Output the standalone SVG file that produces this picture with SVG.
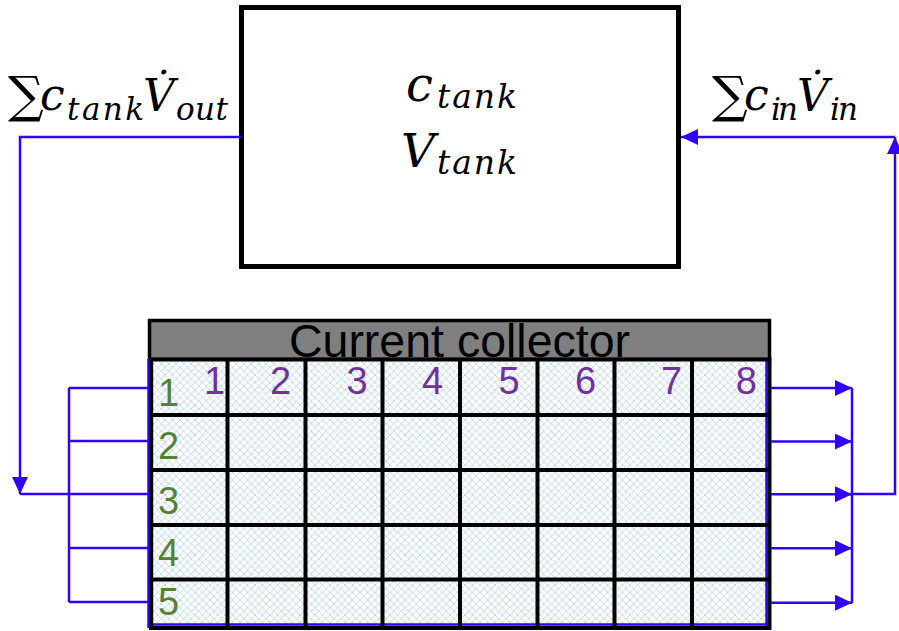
<svg xmlns="http://www.w3.org/2000/svg" width="899" height="631" viewBox="0 0 899 631">
<style>
.math{font-family:"DejaVu Serif","Liberation Serif",serif;font-style:italic;fill:#000}
.sum{font-family:"DejaVu Serif","Liberation Serif",serif;fill:#000}
.row{font-family:"Liberation Sans",Arial,sans-serif;font-size:38px;fill:#548235}
.col{font-family:"Liberation Sans",Arial,sans-serif;font-size:38px;fill:#7030a0}
.conn{fill:none;stroke:#3300ff;stroke-width:2.5}
.grid{stroke:#000;stroke-width:4;stroke-linecap:square;fill:none}
.edge{stroke:#3300ff;stroke-width:2.5;fill:none}
</style>
<defs>
<pattern id="hatch" width="7.5" height="7.5" patternUnits="userSpaceOnUse">
<rect width="7.5" height="7.5" fill="#fff"/>
<path d="M0,0 L7.5,7.5 M7.5,0 L0,7.5" stroke="#bdd6ee" stroke-width="0.9"/>
</pattern>
<marker id="arr" markerWidth="17" markerHeight="16" refX="17" refY="8" orient="auto" markerUnits="userSpaceOnUse">
<path d="M0,0 L17,8 L0,16 z" fill="#3300ff"/>
</marker>
</defs>
<rect width="899" height="631" fill="#fff"/>

<g id="tank">
<rect x="241.5" y="7.5" width="437" height="259" fill="#fff" stroke="#000" stroke-width="5"/>
<text class="math" x="406" y="101" font-size="48">c</text>
<text class="math" x="437" y="108" font-size="33" textLength="80" lengthAdjust="spacing">tank</text>
<text class="math" x="401" y="167" font-size="47">V</text>
<text class="math" x="437" y="174" font-size="33" textLength="80" lengthAdjust="spacing">tank</text>
</g>

<g id="label-out">
<text class="sum" x="8" y="112" font-size="50">∑</text>
<text class="math" x="40" y="110" font-size="44">c</text>
<text class="math" x="67" y="120" font-size="31" textLength="77" lengthAdjust="spacing">tank</text>
<text class="math" x="143" y="111" font-size="44">V̇</text>
<text class="math" x="176" y="120" font-size="31" textLength="52" lengthAdjust="spacing">out</text>
</g>

<g id="label-in">
<text class="sum" x="712" y="112" font-size="50">∑</text>
<text class="math" x="744" y="110" font-size="44">c</text>
<text class="math" x="771" y="120" font-size="31" textLength="27" lengthAdjust="spacing">in</text>
<text class="math" x="797" y="111" font-size="44">V̇</text>
<text class="math" x="830" y="120" font-size="31" textLength="28" lengthAdjust="spacing">in</text>
</g>

<g id="current-collector">
<rect x="149.5" y="320.5" width="620" height="39" fill="#7f7f7f" stroke="#000" stroke-width="3.5"/>
<text x="459.5" y="357" font-family="Liberation Sans, Arial, sans-serif" font-size="46.5" text-anchor="middle" fill="#000">Current collector</text>
<rect x="149.5" y="359.5" width="620" height="268.5" fill="url(#hatch)"/>
<path class="edge" d="M148.5,359 V628 M150,624.5 H768 M766.5,359 V626"/>
<path class="grid" d="M151.2,359.5 V628 M227.5,359.5 V628 M305.5,359.5 V628 M382.5,359.5 V628 M460,359.5 V628 M537.5,359.5 V628 M614.5,359.5 V628 M692,359.5 V628 M769.5,359.5 V628 M151,359.5 H769.5 M151,415 H769.5 M151,470 H769.5 M151,525 H769.5 M151,579.5 H769.5 M151,628 H769.5"/>
<text class="row" x="158" y="406">1</text>
<text class="row" x="158" y="459">2</text>
<text class="row" x="158" y="514">3</text>
<text class="row" x="158" y="566">4</text>
<text class="row" x="158" y="615">5</text>
<text class="col" x="204" y="394">1</text>
<text class="col" x="270" y="394">2</text>
<text class="col" x="346.5" y="394">3</text>
<text class="col" x="422" y="394">4</text>
<text class="col" x="498.5" y="394">5</text>
<text class="col" x="575" y="394">6</text>
<text class="col" x="661" y="394">7</text>
<text class="col" x="735.7" y="394">8</text>
</g>

<g id="connectors">
<path class="conn" d="M241,137 H20 V494" marker-end="url(#arr)"/>
<path class="conn" d="M20,494 H148"/>
<path class="conn" d="M69,388 V602 M69,388 H148 M69,441 H148 M69,548 H148 M69,602 H148"/>
<path class="conn" d="M771,388 H852" marker-end="url(#arr)"/>
<path class="conn" d="M771,441.5 H852" marker-end="url(#arr)"/>
<path class="conn" d="M771,494.3 H852" marker-end="url(#arr)"/>
<path class="conn" d="M771,548.3 H852" marker-end="url(#arr)"/>
<path class="conn" d="M771,602.7 H852" marker-end="url(#arr)"/>
<path class="conn" d="M852,388 V603"/>
<path class="conn" d="M852,494 H895 V137" marker-end="url(#arr)"/>
<path class="conn" d="M895,137 H681" marker-end="url(#arr)"/>
</g>
</svg>
